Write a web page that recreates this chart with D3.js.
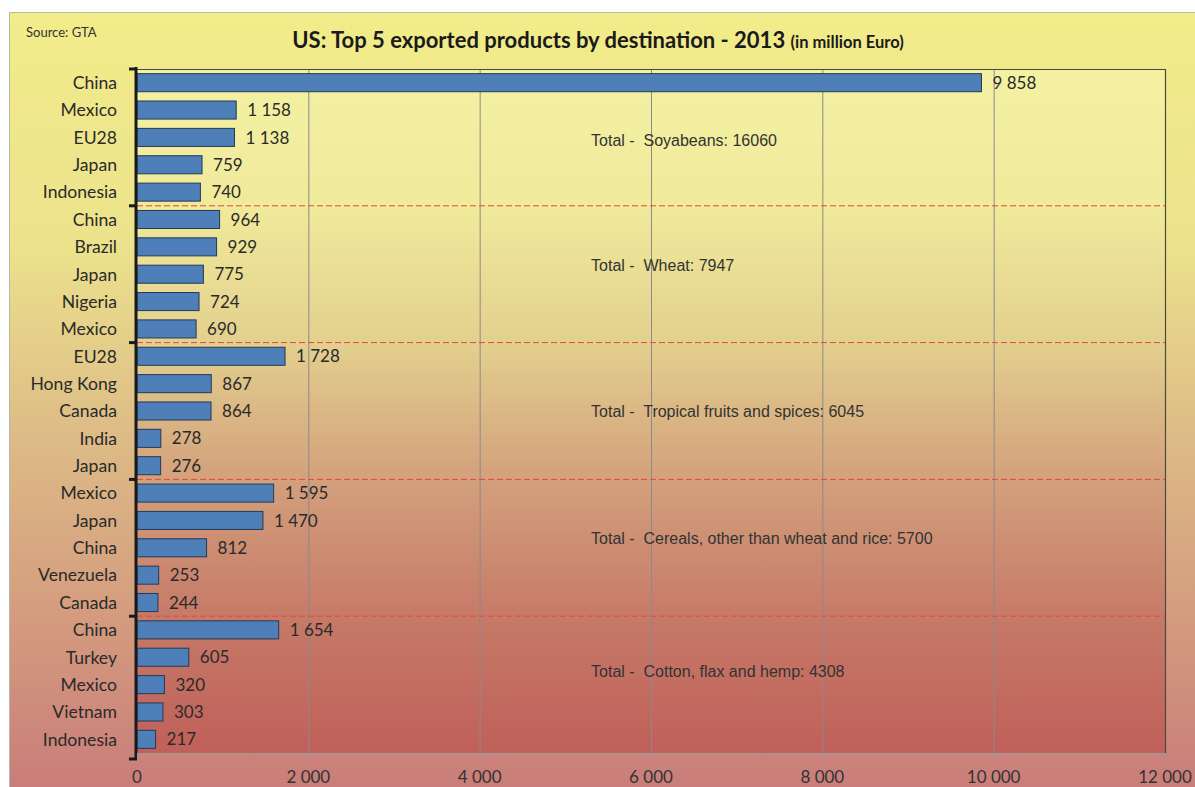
<!DOCTYPE html>
<html>
<head>
<meta charset="utf-8">
<script src="https://cdn.jsdelivr.net/npm/d3@7"></script>
<style>
  body { margin: 0; background: #fff; }
  svg { display: block; }
</style>
</head>
<body>
<div id="chart"></div>
<script>
// data
const countries = [
  "China", "Mexico", "EU28", "Japan", "Indonesia",
  "China", "Brazil", "Japan", "Nigeria", "Mexico",
  "EU28", "Hong Kong", "Canada", "India", "Japan",
  "Mexico", "Japan", "China", "Venezuela", "Canada",
  "China", "Turkey", "Mexico", "Vietnam", "Indonesia"
];
const values = [
  9858, 1158, 1138, 759, 740,
  964, 929, 775, 724, 690,
  1728, 867, 864, 278, 276,
  1595, 1470, 812, 253, 244,
  1654, 605, 320, 303, 217
];
const products = ["Soyabeans", "Wheat", "Tropical fruits and spices", "Cereals, other than wheat and rice", "Cotton, flax and hemp"];
const totals = [16060, 7947, 6045, 5700, 4308];
const xTicks = [0, 2000, 4000, 6000, 8000, 10000, 12000];

const width = 1195, height = 787;
const margin = {top: 69, right: 30, bottom: 34, left: 137};

const fmt = v => d3.format(",")(v).replace(/,/g, " ");

const svg = d3.select("#chart").append("svg")
    .attr("width", width)
    .attr("height", height);

const defs = svg.append("defs");
const outerGrad = defs.append("linearGradient")
    .attr("id", "outerGrad").attr("x1", 0).attr("y1", 0).attr("x2", 0).attr("y2", 1);
[[0, "#f2ec8a"], [0.3, "#ece28c"], [0.55, "#ddbb86"], [0.8, "#d3997e"], [1, "#c97d7a"]]
  .forEach(([o, c]) => outerGrad.append("stop").attr("offset", o).attr("stop-color", c));
const plotGrad = defs.append("linearGradient")
    .attr("id", "plotGrad").attr("x1", 0).attr("y1", 0).attr("x2", 0).attr("y2", 1);
[[0, "#f4f1a3"], [0.2, "#f0ea9b"], [0.4, "#e3d08e"], [0.6, "#d3a07c"], [0.8, "#c67a68"], [1, "#c0605a"]]
  .forEach(([o, c]) => plotGrad.append("stop").attr("offset", o).attr("stop-color", c));

// chart area
svg.append("rect")
    .attr("x", 9.5).attr("y", 12.5)
    .attr("width", width - 9).attr("height", height - 12)
    .attr("fill", "url(#outerGrad)")
    .attr("stroke", "#b8b8b0");

const x = d3.scaleLinear()
    .domain([0, 12000])
    .range([margin.left, width - margin.right]);

const y = d3.scaleBand()
    .domain(d3.range(countries.length))
    .range([margin.top, height - margin.bottom])
    .paddingInner(0.34)
    .paddingOuter(0.17);

const rowY = d3.scaleLinear()
    .domain([0, countries.length])
    .range([margin.top, height - margin.bottom]);

// plot area
svg.append("rect")
    .attr("x", x(0)).attr("y", margin.top)
    .attr("width", x(12000) - x(0)).attr("height", height - margin.bottom - margin.top)
    .attr("fill", "url(#plotGrad)");

// gridlines
svg.append("g")
  .selectAll("line")
  .data(xTicks.slice(1, -1))
  .join("line")
    .attr("x1", d => x(d) + 0.5).attr("x2", d => x(d) + 0.5)
    .attr("y1", margin.top).attr("y2", height - margin.bottom)
    .attr("stroke", "#8a8a8e").attr("stroke-width", 1);

// plot border: top and right dark, bottom grey
svg.append("path")
    .attr("d", `M${x(0)},${margin.top + 0.5}H${x(12000) + 0.5}V${height - margin.bottom}`)
    .attr("fill", "none").attr("stroke", "#4a4a40").attr("stroke-width", 1.2);
svg.append("line")
    .attr("x1", x(0)).attr("x2", x(12000))
    .attr("y1", height - margin.bottom + 0.5).attr("y2", height - margin.bottom + 0.5)
    .attr("stroke", "#999");

// group dividers
svg.append("g")
  .selectAll("line")
  .data([5, 10, 15, 20])
  .join("line")
    .attr("x1", x(0)).attr("x2", x(12000))
    .attr("y1", d => rowY(d)).attr("y2", d => rowY(d))
    .attr("stroke", "#e8473a").attr("stroke-width", 1)
    .attr("stroke-dasharray", "6,3");

// bars
svg.append("g")
  .selectAll("rect")
  .data(values)
  .join("rect")
    .attr("x", x(0))
    .attr("y", (d, i) => y(i))
    .attr("width", d => x(d) - x(0))
    .attr("height", y.bandwidth())
    .attr("fill", "#4f7fb8")
    .attr("stroke", "#243a55")
    .attr("stroke-width", 1);

// value labels
svg.append("g")
    .attr("font-family", "Lato, 'Open Sans', sans-serif")
    .attr("font-size", 17)
    .attr("fill", "#2a2a2a")
  .selectAll("text")
  .data(values)
  .join("text")
    .attr("x", d => x(d) + 11)
    .attr("y", (d, i) => y(i) + y.bandwidth() / 2)
    .attr("dy", "0.36em")
    .text(fmt);

// y axis
const yAxis = svg.append("g")
    .attr("font-family", "Lato, 'Open Sans', sans-serif")
    .attr("font-size", 17.6)
    .attr("fill", "#2a2a2a");
yAxis.append("line")
    .attr("x1", x(0) - 1).attr("x2", x(0) - 1)
    .attr("y1", margin.top - 2).attr("y2", height - margin.bottom + 7)
    .attr("stroke", "#1a1a1a").attr("stroke-width", 3);
yAxis.selectAll("line.tick")
  .data([0, 5, 10, 15, 20, 25])
  .join("line")
    .attr("class", "tick")
    .attr("x1", x(0) - 8).attr("x2", x(0))
    .attr("y1", d => rowY(d) + (d === 25 ? 6 : 0)).attr("y2", d => rowY(d) + (d === 25 ? 6 : 0))
    .attr("stroke", "#1a1a1a").attr("stroke-width", 3);
yAxis.selectAll("text")
  .data(countries)
  .join("text")
    .attr("x", x(0) - 20)
    .attr("y", (d, i) => y(i) + y.bandwidth() / 2)
    .attr("dy", "0.36em")
    .attr("text-anchor", "end")
    .text(d => d);

// x axis
const xAxis = svg.append("g")
    .attr("font-family", "Lato, 'Open Sans', sans-serif")
    .attr("font-size", 17)
    .attr("fill", "#333");
xAxis.selectAll("line")
  .data(xTicks)
  .join("line")
    .attr("x1", d => x(d) + 0.5).attr("x2", d => x(d) + 0.5)
    .attr("y1", height - margin.bottom).attr("y2", height - margin.bottom + 8)
    .attr("stroke", "#999");
xAxis.selectAll("text")
  .data(xTicks)
  .join("text")
    .attr("x", d => x(d))
    .attr("y", height - 4)
    .attr("text-anchor", "middle")
    .text(fmt);

// totals annotations
const totalRows = [2.6, 7.16, 12.5, 17.14, 22.0];
svg.append("g")
    .attr("font-family", "'Liberation Sans', Arial, sans-serif")
    .attr("font-size", 16)
    .attr("fill", "#333")
  .selectAll("text")
  .data(products)
  .join("text")
    .attr("x", x(5300))
    .attr("y", (d, i) => rowY(totalRows[i]))
    .attr("dy", "0.36em")
    .text((d, i) => `Total -\u00a0 ${d}: ${totals[i]}`);

// title and source
svg.append("text")
    .attr("x", 26).attr("y", 37)
    .attr("font-family", "Lato, 'Open Sans', sans-serif")
    .attr("font-size", 13)
    .attr("fill", "#333")
    .text("Source: GTA");

const title = svg.append("text")
    .attr("x", 598).attr("y", 48)
    .attr("text-anchor", "middle")
    .attr("font-family", "Lato, 'Open Sans', sans-serif")
    .attr("font-weight", "bold")
    .attr("fill", "#1a1a1a");
title.append("tspan").attr("font-size", 22).text("US: Top 5 exported products by destination - 2013 ");
title.append("tspan").attr("font-size", 16.5).text("(in million Euro)");
</script>
</body>
</html>
